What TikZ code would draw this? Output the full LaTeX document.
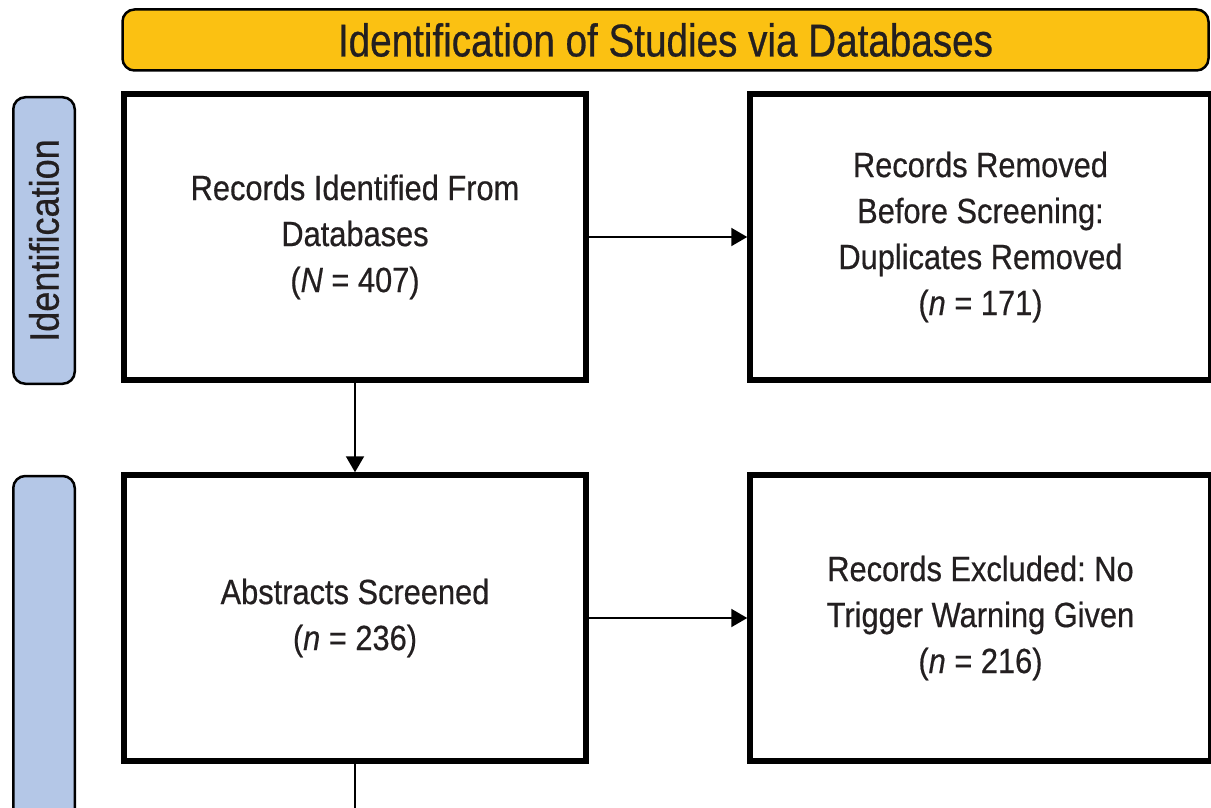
\documentclass[tikz,border=0pt]{standalone}
\usepackage{fontspec}
\setmainfont{Liberation Sans}
\newfontfamily\bodyfont{Liberation Sans}[FakeStretch=0.88,FakeBold=0.5]
\newfontfamily\bannerfont{Liberation Sans}[FakeStretch=0.84,FakeBold=0.6]
\usetikzlibrary{arrows.meta}
\definecolor{banneryellow}{HTML}{FBC112}
\definecolor{labelblue}{HTML}{B4C7E7}
\definecolor{ink}{HTML}{231F20}
\tikzset{
  flowbox/.style={draw=black, line width=5.5pt, fill=white, minimum width=462pt, minimum height=286pt,
    inner sep=0pt, align=center, text=ink, font={\bodyfont\fontsize{35}{46}\selectfont\frenchspacing}},
  sidebox/.style={draw=black, line width=5.5pt, fill=white, minimum width=461pt, minimum height=286pt,
    inner sep=0pt, align=center, text=ink, font={\bodyfont\fontsize{35}{46}\selectfont\frenchspacing}},
  phase/.style={draw=black, line width=2.5pt, fill=labelblue, rounded corners=12pt, minimum width=61.5pt,
    inner sep=0pt, text=ink, font={\bodyfont\fontsize{41}{46}\selectfont}},
  banner/.style={draw=black, line width=2.5pt, fill=banneryellow, rounded corners=12pt, minimum width=1086pt,
    minimum height=61pt, inner sep=0pt, text=ink, font={\bannerfont\fontsize{46}{52}\selectfont}},
  flowarrow/.style={draw=black, line width=2pt, -{Triangle[length=16pt,width=18pt]}},
}
\begin{document}
\begin{tikzpicture}[x=1pt,y=-1pt]
\useasboundingbox (0,0) rectangle (1211,808);
\node[banner] (ban) at (665.5,40) {Identification of Studies via Databases};
\node[phase, minimum height=286.5pt] (ph1) at (44,240.5) {\rotatebox{90}{Identification}};
\node[phase, minimum height=500pt] (ph2) at (44,726) {};
\node[flowbox] (b1) at (355,237) {Records Identified From\\Databases\\(\textit{N} = 407)};
\node[flowbox] (b2) at (355,618) {Abstracts Screened\\(\textit{n} = 236)};
\node[sidebox] (r1) at (980.5,237) {Records Removed\\Before Screening:\\Duplicates Removed\\(\textit{n} = 171)};
\node[sidebox] (r2) at (980.5,618) {Records Excluded: No\\Trigger Warning Given\\(\textit{n} = 216)};
\coordinate (bottom) at (355,812);
\draw[flowarrow] (b1.east) -- (r1.west);
\draw[flowarrow] (b2.east) -- (r2.west);
\draw[flowarrow] (b1.south) -- (b2.north);
\draw[black, line width=2pt] (b2.south) -- (bottom);
\end{tikzpicture}
\end{document}
